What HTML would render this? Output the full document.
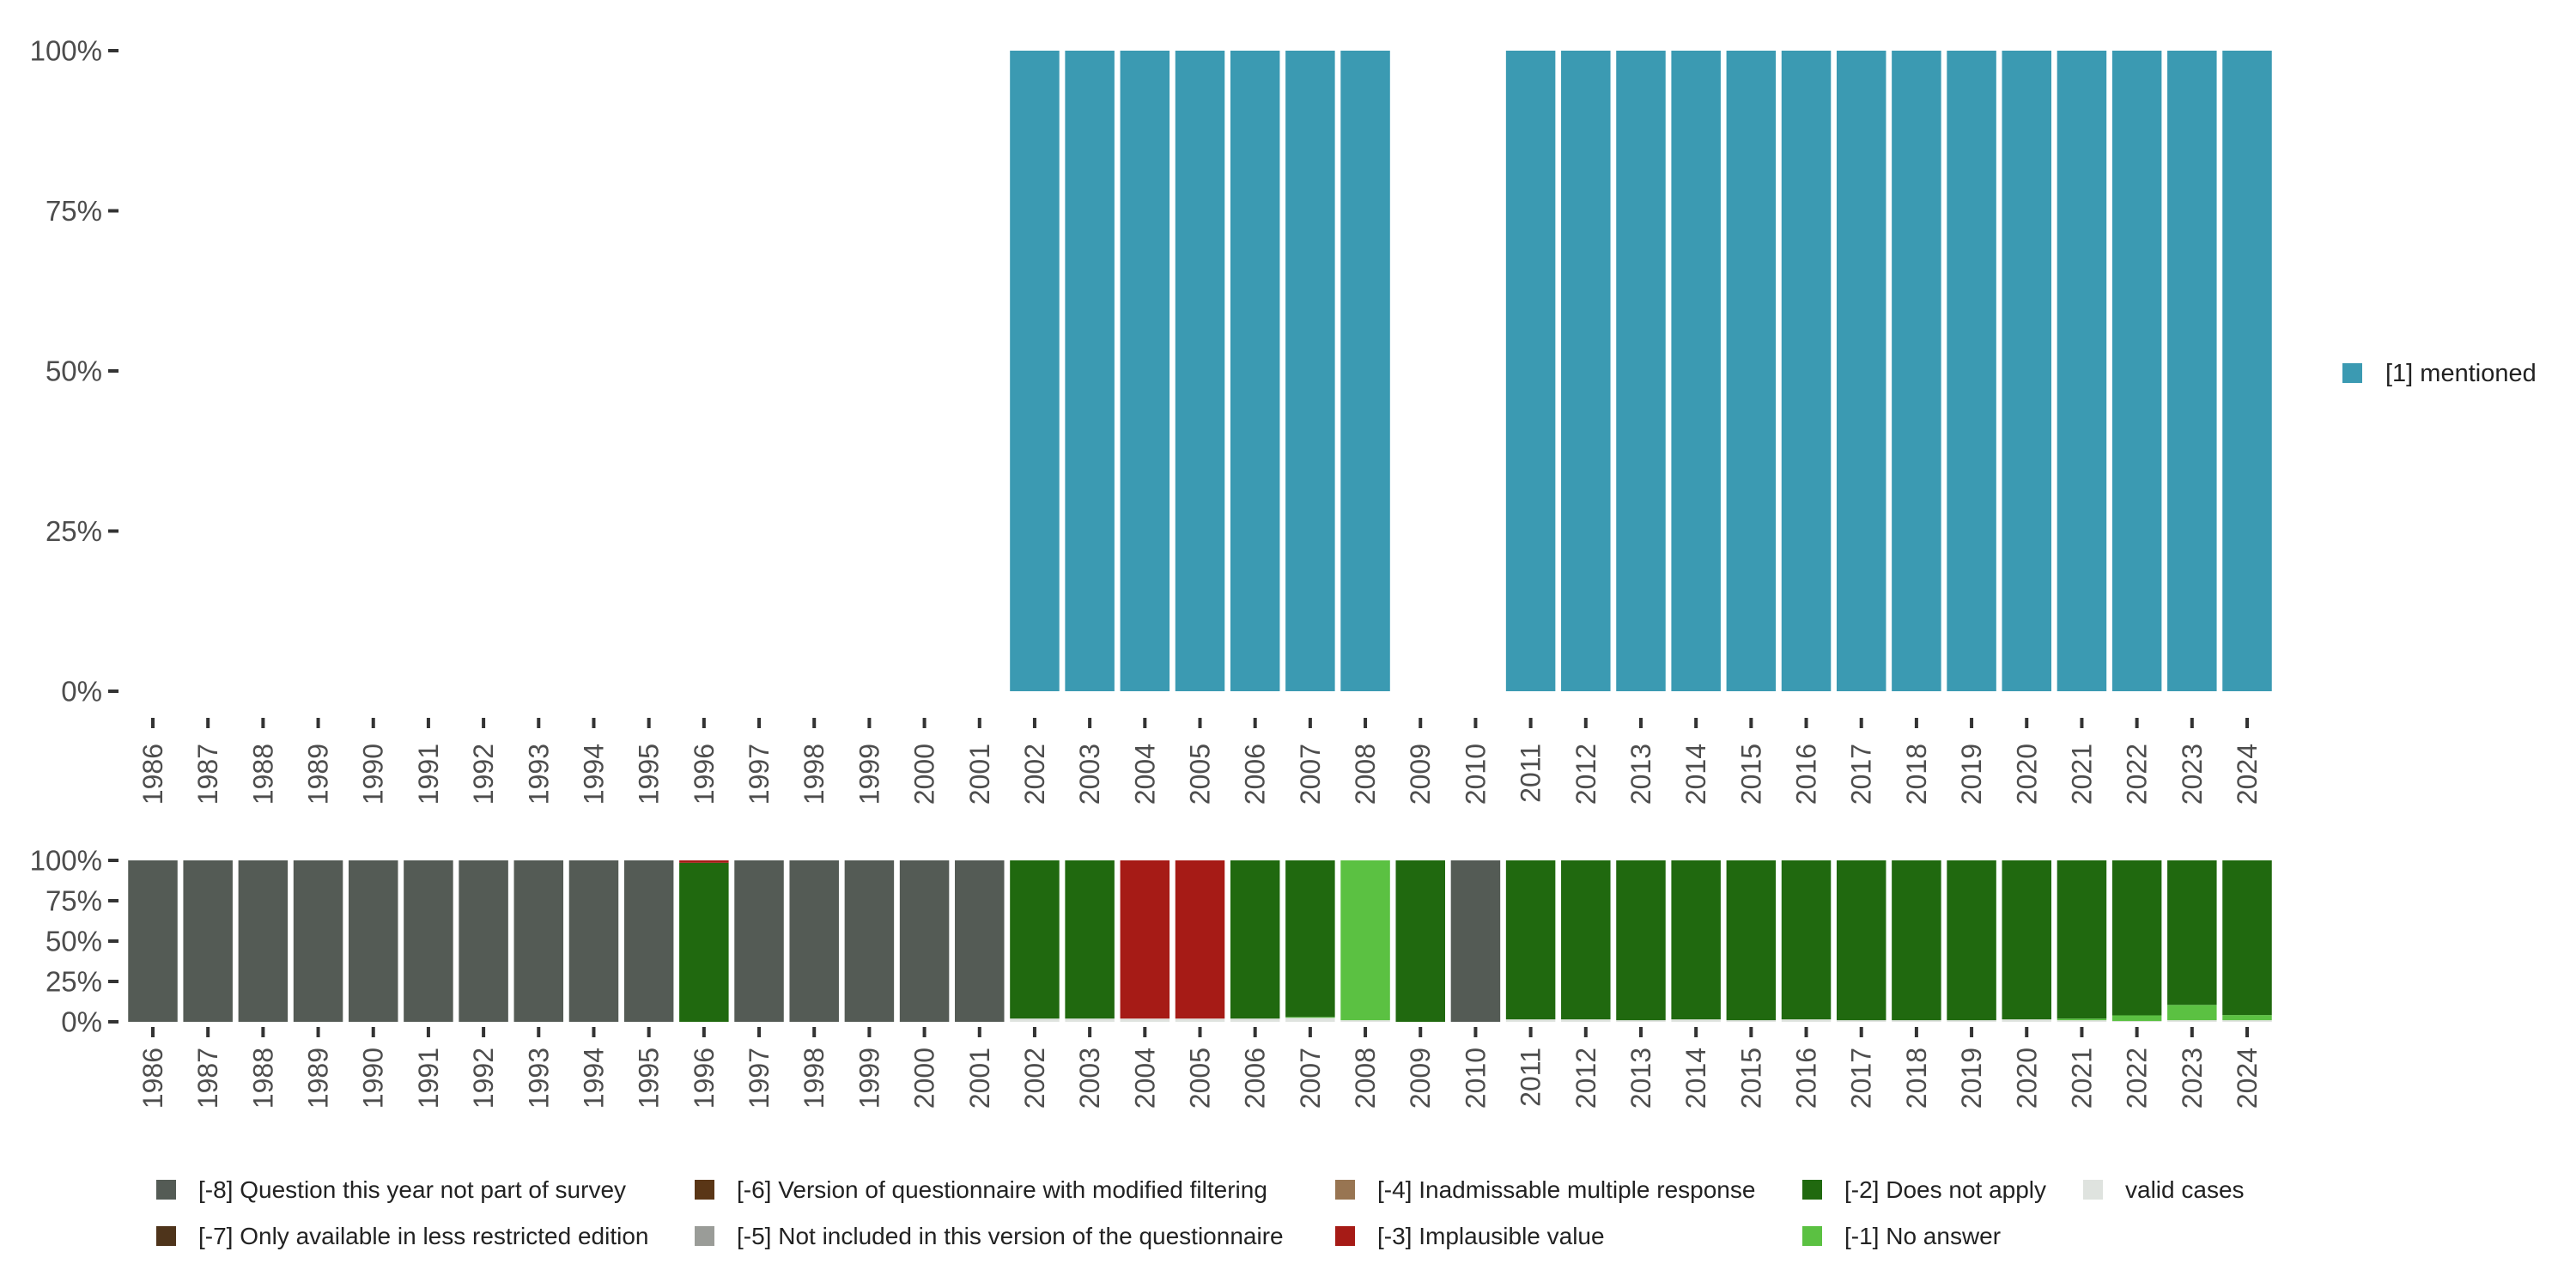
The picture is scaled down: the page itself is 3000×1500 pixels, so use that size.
<!DOCTYPE html>
<html><head><meta charset="utf-8">
<style>
html,body{margin:0;padding:0;background:#fff;}
svg{display:block;font-family:"Liberation Sans","DejaVu Sans",sans-serif;}
</style></head>
<body>
<svg id="chart" width="3000" height="1500" viewBox="0 0 3000 1500" xmlns="http://www.w3.org/2000/svg">
<g id="topPanel"></g>
<g id="bottomPanel"></g>
<g id="legendRight">
  <rect x="2728" y="423" width="23" height="23" fill="#3b9ab2"/>
  <text x="2778" y="444" font-size="29" fill="#222">[1] mentioned</text>
</g>
<g id="legendBottom"></g>
</svg>
<script>
const years = [];
for (let y = 1986; y <= 2024; y++) years.push(String(y));
const mentioned = [0,0,0,0,0,0,0,0,0,0,0,0,0,0,0,0,100,100,100,100,100,100,100,0,0,100,100,100,100,100,100,100,100,100,100,100,100,100,100];
// bottom panel series (percent), stacked bottom-up
const validCases = [0,0,0,0,0,0,0,0,0,0,0,0,0,0,0,0,2,2,2,2,2,2.5,1,0,0,1.5,1.5,1,1.5,1,1.5,1,1,1,1.5,1,0.5,1,1];
const noAnswer   = [0,0,0,0,0,0,0,0,0,0,0,0,0,0,0,0,0,0,0,0,0,0.5,99,0,0,0,0,0,0,0,0,0,0,0,0,1,3.5,9.5,3.2];
const doesNotApply=[0,0,0,0,0,0,0,0,0,0,98.5,0,0,0,0,0,98,98,0,0,98,97,0,100,0,98.5,98.5,99,98.5,99,98.5,99,99,99,98.5,98,96,89.5,95.8];
const implausible= [0,0,0,0,0,0,0,0,0,0,1.5,0,0,0,0,0,0,0,98,98,0,0,0,0,0,0,0,0,0,0,0,0,0,0,0,0,0,0,0];
const notPart    = [100,100,100,100,100,100,100,100,100,100,0,100,100,100,100,100,0,0,0,0,0,0,0,0,100,0,0,0,0,0,0,0,0,0,0,0,0,0,0];
const yTicks = [0,25,50,75,100];
const yTickLabels = ["0%","25%","50%","75%","100%"];

const NS = "http://www.w3.org/2000/svg";
function el(tag, attrs, parent){ const e=document.createElementNS(NS,tag); for(const k in attrs) e.setAttribute(k,attrs[k]); parent.appendChild(e); return e; }
const x0 = 178, step = (2617-178)/38, bw = 57.5;
function xCenter(i){ return x0 + i*step; }
function yTop(v){ return 805 - (805-59)*v/100; }
function yBot(v){ return 1190 - (1190-1002)*v/100; }

const topG = document.getElementById('topPanel');
const botG = document.getElementById('bottomPanel');

function axes(g, yFn, tickY, labelY, fs){
  yTicks.forEach((t,k)=>{
    const tk = el('rect',{x:126,y:yFn(t)-2,width:12,height:4,fill:'#333'},g);
    
    
    const tx = el('text',{x:119,y:yFn(t)+fs*0.35,'font-size':fs,'text-anchor':'end',fill:'#4d4d4d'},g);
    tx.textContent = yTickLabels[k];
    
    
  });
  years.forEach((yr,i)=>{
    const cx = xCenter(i);
    const tk = el('rect',{x:cx-2,y:tickY,width:4,height:12,fill:'#333'},g);
    
    
    const tx = el('text',{x:0,y:0,'font-size':32,'text-anchor':'end',fill:'#4d4d4d',transform:`translate(${cx+11},${labelY}) rotate(-90)`},g);
    tx.textContent = yr;
    
    
  });
}
axes(topG, yTop, 836, 866, 33);
axes(botG, yBot, 1196, 1220, 33);

years.forEach((yr,i)=>{
  if (mentioned[i] > 0) {
    const r = el('rect',{x:xCenter(i)-bw/2,y:yTop(mentioned[i]),width:bw,height:yTop(0)-yTop(mentioned[i]),fill:'#3b9ab2'},topG);
    
    
  }
});

const series = [
  {vals:validCases, color:'#dfe3df', name:'valid'},
  {vals:noAnswer, color:'#5bc142', name:'no-answer'},
  {vals:doesNotApply, color:'#20690f', name:'does-not-apply'},
  {vals:implausible, color:'#a61b16', name:'implausible'},
  {vals:notPart, color:'#545b55', name:'not-part'}
];
years.forEach((yr,i)=>{
  let cum = 0;
  series.forEach(s=>{
    const v = s.vals[i];
    if (v > 0) {
      const r = el('rect',{x:xCenter(i)-bw/2,y:yBot(cum+v),width:bw,height:yBot(cum)-yBot(cum+v),fill:s.color},botG);
      
      
    }
    cum += v;
  });
});

const legItems = [
  {x:182,y:1385,c:'#545b55',t:'[-8] Question this year not part of survey'},
  {x:182,y:1439,c:'#4e341b',t:'[-7] Only available in less restricted edition'},
  {x:809,y:1385,c:'#5a3616',t:'[-6] Version of questionnaire with modified filtering'},
  {x:809,y:1439,c:'#9a9c98',t:'[-5] Not included in this version of the questionnaire'},
  {x:1555,y:1385,c:'#987552',t:'[-4] Inadmissable multiple response'},
  {x:1555,y:1439,c:'#a61b16',t:'[-3] Implausible value'},
  {x:2099,y:1385,c:'#20690f',t:'[-2] Does not apply'},
  {x:2099,y:1439,c:'#5bc142',t:'[-1] No answer'},
  {x:2426,y:1385,c:'#dfe3df',t:'valid cases'}
];
const lg = document.getElementById('legendBottom');
legItems.forEach(it=>{
  const r = el('rect',{x:it.x,y:it.y-11,width:23,height:23,fill:it.c},lg);
  
  
  const t = el('text',{x:it.x+49,y:it.y+10,'font-size':28,fill:'#222'},lg);
  t.textContent = it.t;
  
  
});
</script>
</body></html>
